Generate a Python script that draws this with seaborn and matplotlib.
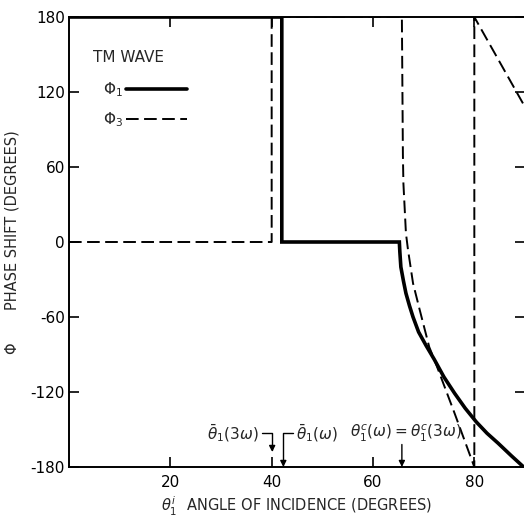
import matplotlib
matplotlib.use("Agg")
import matplotlib.pyplot as plt
import seaborn as sns
import pandas as pd
from matplotlib.lines import Line2D

# ---- data ----
phi1_x = [0, 42, 42, 65.2, 65.3, 65.5, 66.0, 66.5, 67.2, 67.9, 69.0, 70.5, 72.1, 74.0, 76.1, 78.2, 80.4, 82.5, 84.7, 87.3, 90]
phi1_y = [180, 180, 0, 0, -8, -20, -31, -41, -51, -60, -72, -83, -94, -108, -121, -133, -144, -153, -161, -171, -181]

phi3_x = [0, 40, 40, 65.7, 65.9, 66.0, 66.5, 66.9, 67.9, 69.2, 71.1, 72.1, 76.1, 80, 80, 85, 90]
phi3_y = [0, 0, 180, 180, 70, 47, 7, -6, -33, -54, -84, -94, -137, -180, 180, 144, 108]

xticks = [20, 40, 60, 80]
yticks = [-180, -120, -60, 0, 60, 120, 180]
ytick_labels = ["-180", "-120", "-60", "0", "60", "120", "180"]

sns.set_style("ticks")
plt.rcParams["font.family"] = ["DejaVu Sans"]
plt.rcParams["mathtext.fontset"] = "dejavusans"
plt.rcParams["axes.unicode_minus"] = False

fig = plt.figure(figsize=(5.24, 5.19), dpi=100)
ax = fig.add_axes([69 / 524, 52 / 519, 456 / 524, 450 / 519])

df1 = pd.DataFrame({"x": phi1_x, "y": phi1_y})
df3 = pd.DataFrame({"x": phi3_x, "y": phi3_y})

sns.lineplot(data=df1, x="x", y="y", sort=False, estimator=None, color="black",
             lw=2.6, ax=ax, solid_joinstyle="miter")
sns.lineplot(data=df3, x="x", y="y", sort=False, estimator=None, color="black",
             lw=1.4, ax=ax, linestyle=(0, (6.5, 2.8)))

ax.set_xlim(0, 90)
ax.set_ylim(-180, 180)
ax.set_xticks(xticks)
ax.set_xticklabels([str(t) for t in xticks])
ax.set_yticks(yticks)
ax.set_yticklabels(ytick_labels)

for s in ax.spines.values():
    s.set_linewidth(1.4)
    s.set_color("black")

ax.tick_params(axis="both", direction="in", length=7, width=1.2, top=True, right=True,
               labelsize=11, colors="black")
ax.tick_params(axis="x", pad=6)
ax.tick_params(axis="y", pad=3)

ax.set_xlabel(r"$\theta_1^i$  ANGLE OF INCIDENCE (DEGREES)", fontsize=10.5, labelpad=3)
ax.set_ylabel("\u03a6       PHASE SHIFT (DEGREES)", fontsize=10.5, labelpad=8)

# legend
ax.text(0.053, 0.911, "TM WAVE", transform=ax.transAxes, fontsize=11, ha="left", va="center")
handles = [Line2D([], [], color="black", lw=2.6),
           Line2D([], [], color="black", lw=1.4, linestyle=(0, (6.5, 2.8)))]
ax.legend(handles, [r"$\Phi_1$", r"$\Phi_3$"], loc="center left",
          bbox_to_anchor=(0.0747, 0.806), frameon=False, markerfirst=False,
          fontsize=11, handlelength=4.0, handletextpad=0.2, labelspacing=0.75,
          borderpad=0, borderaxespad=0)

# annotations
arrow_kw = dict(arrowstyle="-|>", color="black", lw=1.0, mutation_scale=9,
                shrinkA=0, shrinkB=0)
ax.annotate(r"$\bar{\theta}_1(3\omega)$", xy=(40.1, -168), xytext=(37.4, -153),
            ha="right", va="center", fontsize=11,
            arrowprops=dict(connectionstyle="angle,angleA=0,angleB=90,rad=0",
                            relpos=(1, 0.5), **arrow_kw))
ax.annotate(r"$\bar{\theta}_1(\omega)$", xy=(42.3, -180), xytext=(44.8, -153),
            ha="left", va="center", fontsize=11,
            arrowprops=dict(connectionstyle="angle,angleA=180,angleB=90,rad=0",
                            relpos=(0, 0.5), **arrow_kw))
ax.text(66.6, -153, r"$\theta_1^c(\omega) = \theta_1^c(3\omega)$", ha="center",
        va="center", fontsize=11)
ax.annotate("", xy=(65.7, -180), xytext=(65.7, -162), arrowprops=dict(**arrow_kw))

fig.savefig("out.png", dpi=100)
